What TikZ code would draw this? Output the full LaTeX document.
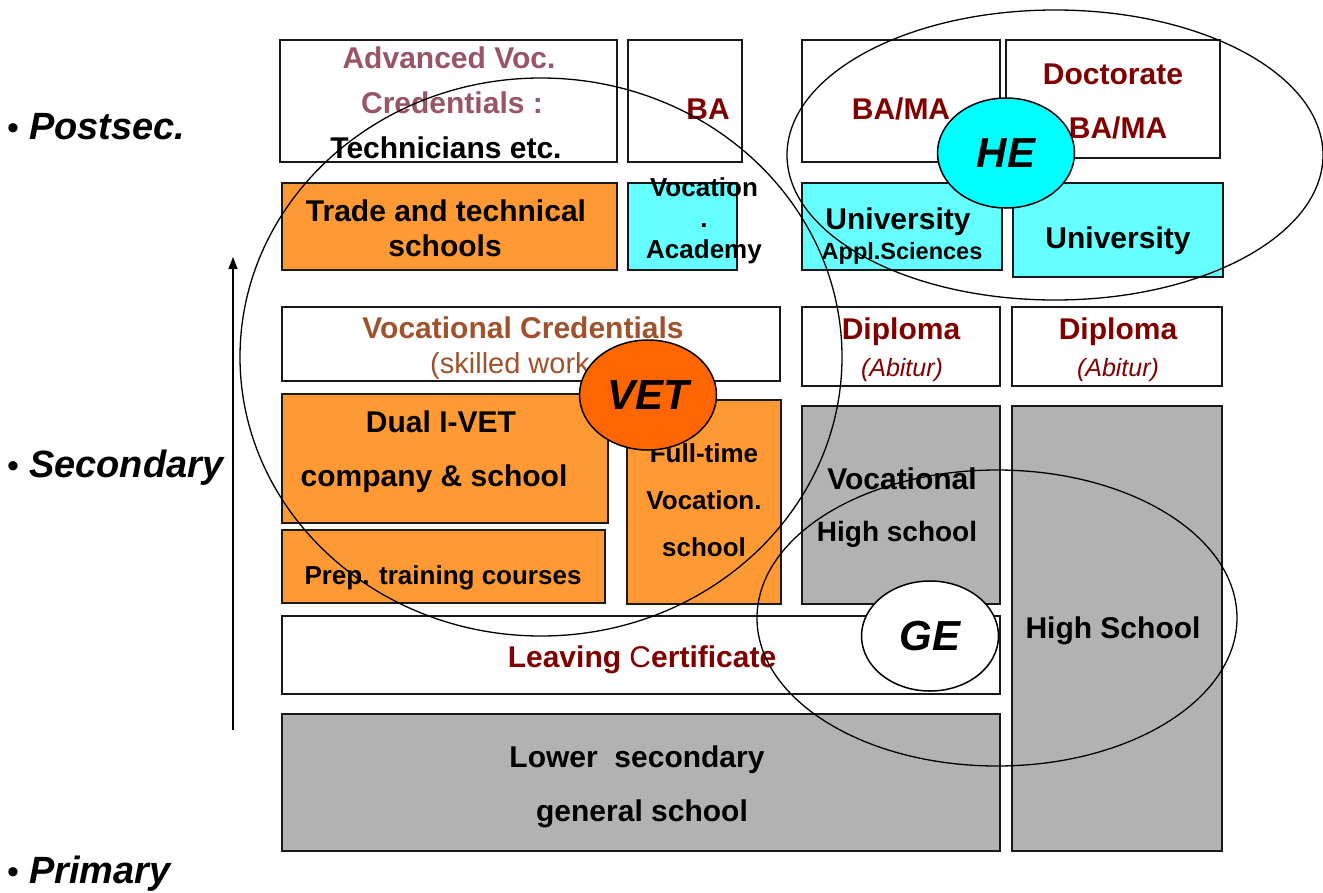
\documentclass[tikz,border=0pt]{standalone}
\usepackage{fontspec}
\setmainfont{Liberation Sans}
\usetikzlibrary{fit,arrows.meta,shapes.geometric}
\definecolor{org}{HTML}{FF9933}
\definecolor{cyn}{HTML}{66FFFF}
\definecolor{gry}{HTML}{B2B2B2}
\definecolor{dred}{HTML}{800000}
\definecolor{mauve}{HTML}{995566}
\definecolor{brwn}{HTML}{A0522D}
\definecolor{vetor}{HTML}{FF6600}
\definecolor{hecyan}{HTML}{00FFFF}
\newcommand{\lvlbullet}{{\fontsize{34}{38}\selectfont\mdseries\upshape •}\hspace{10pt}}
\begin{document}
\begin{tikzpicture}[x=1pt,y=-1pt,
  box/.style={draw=black!90, line width=1.6pt, inner sep=0pt},
  whitebox/.style={box, fill=white},
  orangebox/.style={box, fill=org},
  cyanbox/.style={box, fill=cyn},
  greybox/.style={box, fill=gry},
  lblbig/.style={anchor=base, inner sep=0pt, font=\fontsize{30}{36}\selectfont\bfseries},
  lblmid/.style={anchor=base, inner sep=0pt, font=\fontsize{26}{31}\selectfont\bfseries},
  lblsmall/.style={anchor=base, inner sep=0pt, font=\fontsize{23.5}{28}\selectfont\bfseries},
  lblit/.style={anchor=base, inner sep=0pt, font=\fontsize{25}{30}\selectfont\itshape, text=dred},
  level/.style={anchor=base west, inner sep=0pt, font=\fontsize{38}{44}\selectfont\bfseries\itshape},
  ring/.style={draw=black, line width=1.3pt, ellipse, inner sep=0pt},
  badge/.style={draw=black, line width=1.5pt, ellipse, inner sep=0pt,
                minimum width=137pt, minimum height=110pt,
                font=\fontsize{42}{48}\selectfont\bfseries\itshape}
]
\useasboundingbox (0,0) rectangle (1323,892);

% ---- boxes ----
\node[whitebox, fit={(280,40) (617,162)}] (advbox) {};
\node[whitebox, fit={(628,40) (742,162)}] (babox) {};
\node[whitebox, fit={(802,40) (1000,162)}] (bamabox) {};
\node[whitebox, fit={(1006,40) (1220,158)}] (docbox) {};

\node[orangebox, fit={(282,183) (617,270)}] (tradebox) {};
\node[cyanbox, fit={(628,183) (737,270)}] (academybox) {};
\node[cyanbox, fit={(802,183) (1002,270)}] (uasbox) {};
\node[cyanbox, fit={(1013,183) (1223,277)}] (unibox) {};

\node[whitebox, fit={(282,307) (780,381)}] (vcredbox) {};
\node[whitebox, fit={(802,307) (1000,386)}] (dipabox) {};
\node[whitebox, fit={(1012,307) (1222,386)}] (dipbbox) {};

\node[orangebox, fit={(282,394) (608,523)}] (dualbox) {};
\node[orangebox, fit={(282,530) (605,603)}] (prepbox) {};
\node[orangebox, fit={(627,400) (781,604)}] (fulltimebox) {};
\node[greybox, fit={(802,406) (1000,604)}] (vhsbox) {};
\node[greybox, fit={(1012,406) (1222,851)}] (hsbox) {};

\node[whitebox, fit={(282,616) (1000,694)}] (leavebox) {};
\node[greybox, fit={(282,714) (1000,851)}] (lowerbox) {};

% ---- texts ----
\node[lblbig, text=mauve] (t1) at (449,68) {Advanced Voc.};
\node[lblbig, text=mauve] (t2) at (452,113) {Credentials :};
\node[lblbig] (t3) at (446,158) {Technicians etc.};
\node[lblbig, text=dred] (t4) at (708,119) {BA};
\node[lblbig, text=dred] (t5) at (901,119) {BA/MA};
\node[lblbig, text=dred] (t6) at (1113,84) {Doctorate};
\node[lblbig, text=dred] (t7) at (1118,138) {BA/MA};

\node[lblbig] (t8) at (446,221) {Trade and technical};
\node[lblbig] (t9) at (445,256) {schools};
\node[lblmid] (t10) at (704,196) {Vocation};
\node[lblmid] (t11) at (704,227) {.};
\node[lblmid] (t12) at (704,258) {Academy};
\node[lblbig] (t13) at (898,229) {University};
\node[lblsmall] (t14) at (902,259) {Appl.Sciences};
\node[lblbig] (t15) at (1118,248) {University};

\node[lblbig, text=brwn] (t16) at (523,338) {Vocational Credentials};
\node[anchor=base, inner sep=0pt, font=\fontsize{29}{34}\selectfont, text=brwn] (t17) at (510,373) {(skilled work};
\node[lblbig, text=dred] (t18) at (901,339) {Diploma};
\node[lblit] (t19) at (902,376) {(Abitur)};
\node[lblbig, text=dred] (t20) at (1118,339) {Diploma};
\node[lblit] (t21) at (1118,376) {(Abitur)};

\node[lblbig] (t22) at (441,432) {Dual I-VET};
\node[lblbig] (t23) at (434,486) {company \& school};
\node[lblmid] (t24) at (443,584) {Prep. training courses};
\node[lblmid] (t25) at (704,462) {Full-time};
\node[lblmid] (t26) at (704,509) {Vocation.};
\node[lblmid] (t27) at (704,556) {school};
\node[lblbig] (t28) at (902,489) {Vocational};
\node[lblbig, font=\fontsize{28}{34}\selectfont\bfseries] (t29) at (897,541) {High school};
\node[lblbig] (t30) at (1113,638) {High School};

\node[lblbig, text=dred] (t31) at (642,667) {Leaving {\mdseries C}ertificate};
\node[lblbig] (t32) at (637,767) {Lower\ \ secondary};
\node[lblbig] (t33) at (642,821) {general school};

% ---- level labels ----
\node[level] (lpost) at (7,139) {\lvlbullet Postsec.};
\node[level] (lsec) at (7,477) {\lvlbullet Secondary};
\node[level] (lprim) at (7,883) {\lvlbullet Primary};

% ---- arrow ----
\coordinate (arrbot) at (233,730);
\coordinate (arrtop) at (233,257);
\draw[line width=1.4pt, -{Triangle[length=12pt,width=9pt]}] (arrbot) -- (arrtop);

% ---- big rings ----
\node[ring, minimum width=602pt, minimum height=558pt] (vetring) at (541,357) {};
\node[ring, minimum width=536pt, minimum height=290pt] (hering) at (1055,155) {};
\node[ring, minimum width=480pt, minimum height=296pt] (gering) at (997,618) {};

% ---- badges ----
\node[badge, fill=hecyan] (he) at (1006,153) {HE};
\node[badge, fill=vetor] (vet) at (648,395) {VET};
\node[badge, fill=white] (ge) at (930,636) {GE};
\end{tikzpicture}
\end{document}
